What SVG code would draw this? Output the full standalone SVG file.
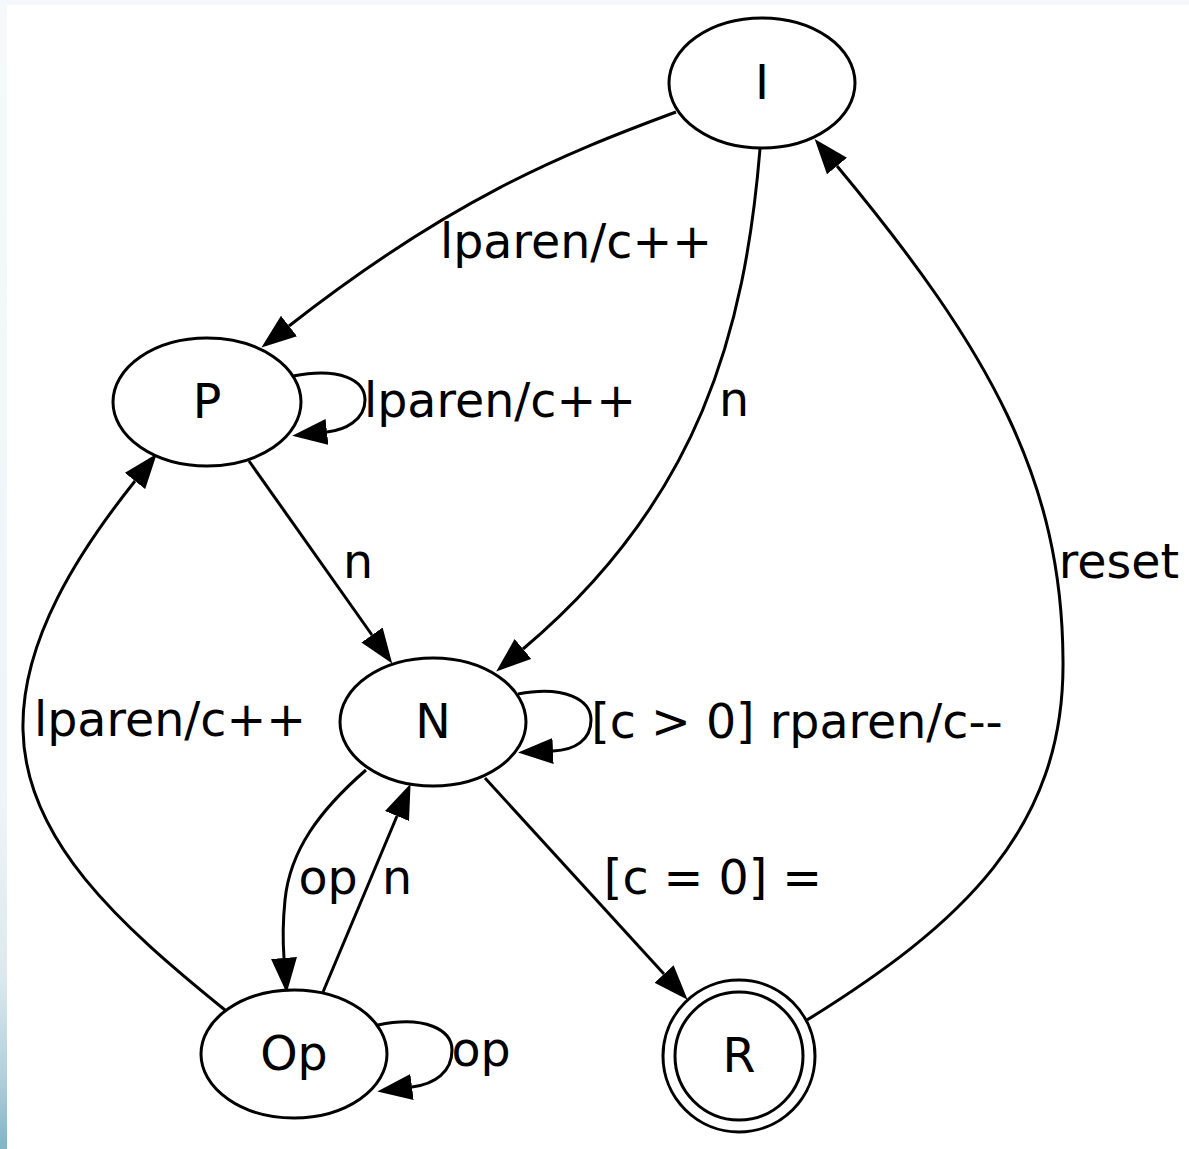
<svg xmlns="http://www.w3.org/2000/svg" width="1189" height="1149" viewBox="0 0 1189 1149">
<defs>
<linearGradient id="edgeGrad" x1="0" y1="0" x2="0" y2="1">
<stop offset="0" stop-color="#f5f9fc"/>
<stop offset="0.7" stop-color="#eef4f7"/>
<stop offset="0.85" stop-color="#dbe9ee"/>
<stop offset="0.93" stop-color="#b6d2dd"/>
<stop offset="1" stop-color="#82b3c6"/>
</linearGradient>
<marker id="arrow" viewBox="0 0 35 26" refX="0" refY="13" markerWidth="35" markerHeight="26" markerUnits="userSpaceOnUse" orient="auto">
<path d="M0,0 L35,13 L0,26 z" fill="#000"/>
</marker>
<style>
.node ellipse, .node circle { fill: #fff; stroke: #000; stroke-width: 3; }
.edge { fill: none; stroke: #000; stroke-width: 3; marker-end: url(#arrow); }
text { font-family: "DejaVu Sans", "Liberation Sans", sans-serif; font-size: 47.5px; fill: #000; text-anchor: middle; }
</style>
</defs>
<rect x="0" y="0" width="1189" height="1149" fill="#fff"/>
<rect x="0" y="0" width="1189" height="5" fill="#f4f8fb"/>
<rect x="0" y="0" width="7" height="1149" fill="url(#edgeGrad)"/>

<g id="connectors">
<path class="edge" d="M676,112 C560,155 450,200 289,326"/>
<text x="576" y="258">lparen/c++</text>
<path class="edge" d="M293,376 C340,367 365,380 365,400 C365,420 345,430 327,432"/>
<text x="500" y="417">lparen/c++</text>
<path class="edge" d="M760,149 C745,330 700,500 523,649"/>
<text x="734" y="416">n</text>
<path class="edge" d="M249,461 L372,635"/>
<text x="358" y="578">n</text>
<path class="edge" d="M518,694 C565,685 591,700 591,720 C591,740 575,750 553,751"/>
<text x="797" y="738">[c &gt; 0] rparen/c--</text>
<path class="edge" d="M366,770 C320,810 290,850 285,900 C282,930 283,945 284,958"/>
<text x="328" y="894">op</text>
<path class="edge" d="M323,992 L397,816"/>
<text x="397" y="894">n</text>
<path class="edge" d="M225,1010 C120,925 25,840 23,730 C21,640 80,550 135,481"/>
<text x="170" y="736">lparen/c++</text>
<path class="edge" d="M485,778 L664,974"/>
<text x="713" y="894">[c = 0] =</text>
<path class="edge" d="M807,1020 C960,925 1065,830 1063,660 C1062,480 990,350 837,166"/>
<text x="1119" y="578">reset</text>
<path class="edge" d="M378,1025 C425,1015 452,1030 452,1050 C452,1072 435,1084 412,1087"/>
<text x="481" y="1066">op</text>
</g>

<g id="node-I" class="node"><ellipse cx="762" cy="83" rx="93" ry="65"/><text x="762" y="99">I</text></g>
<g id="node-P" class="node"><ellipse cx="207" cy="402" rx="94" ry="64"/><text x="207" y="418">P</text></g>
<g id="node-N" class="node"><ellipse cx="433" cy="722" rx="93" ry="64"/><text x="433" y="738">N</text></g>
<g id="node-Op" class="node"><ellipse cx="294" cy="1054" rx="93" ry="64"/><text x="294" y="1070">Op</text></g>
<g id="node-R" class="node"><circle cx="739" cy="1056" r="76"/><circle cx="739" cy="1056" r="64"/><text x="739" y="1072">R</text></g>
</svg>
